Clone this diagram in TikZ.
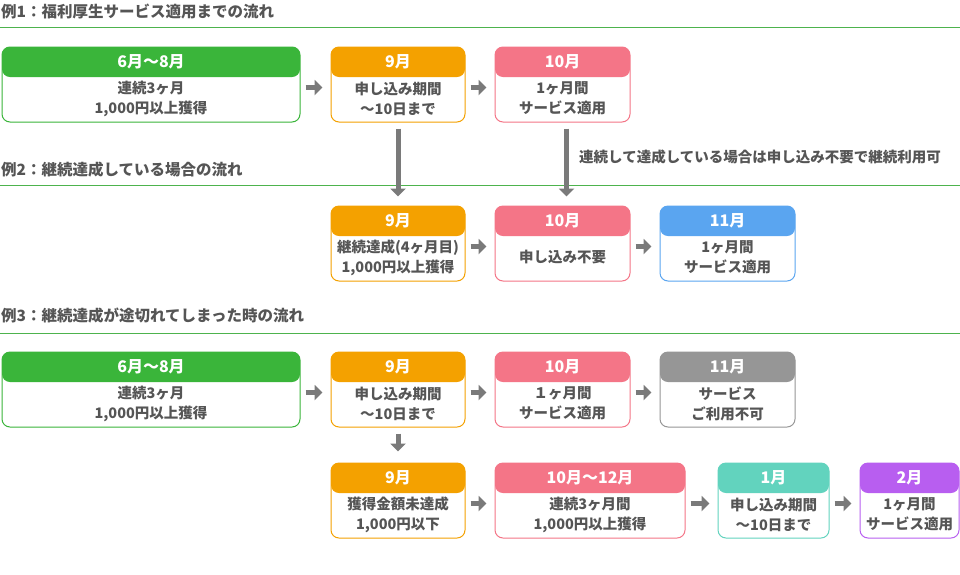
\documentclass[tikz,border=0pt]{standalone}
\usepackage{fontspec}
\setmainfont{Noto Sans CJK JP}
\usetikzlibrary{arrows.meta}
\definecolor{cgreen}{HTML}{3AB53A}
\definecolor{corange}{HTML}{F4A100}
\definecolor{cpink}{HTML}{F47587}
\definecolor{cblue}{HTML}{5AA5F0}
\definecolor{cgrey}{HTML}{969696}
\definecolor{cteal}{HTML}{62D3BE}
\definecolor{cpurple}{HTML}{B85EF0}
\definecolor{ctext}{HTML}{555555}
\definecolor{carrow}{HTML}{7A7A7A}
\definecolor{cline}{HTML}{4DB34D}
\newcommand\mbx[7]{%
  \node[mbox=#2, minimum width=#5] (#1) at (#3,#4) {};
  \node[hdr] (#1h) at ([yshift=-15pt]#1.north) {#6};
  \node[bodytxt] (#1b) at ([yshift=-14pt]#1.center) {#7};
}
\newcommand\harr[2]{\draw[arr] ([xshift=5pt,yshift=-3pt]#1.east) -- ([xshift=-8pt,yshift=-3pt]#2.west);}
\begin{document}
\begin{tikzpicture}[x=1pt,y=-1pt,
  mbox/.style={draw=#1, fill=white, line width=1pt, rounded corners=8pt,
    minimum height=75pt, inner sep=0pt,
    path picture={\fill[#1] (path picture bounding box.north west) rectangle ([yshift=-30pt]path picture bounding box.north east);}},
  hdr/.style={text=white, font=\fontsize{16}{18}\selectfont\bfseries, inner sep=0pt},
  bodytxt/.style={text=ctext, align=center, inner sep=0pt, font=\fontsize{14.5}{20}\selectfont\bfseries},
  ttl/.style={text=ctext, anchor=west, inner sep=0pt, font=\fontsize{15.5}{18}\selectfont\bfseries},
  sep/.style={draw=cline, line width=1pt},
  arr/.style={draw=carrow, line width=5pt, -{Triangle[length=8pt,width=15pt]}}]
\useasboundingbox (0,0) rectangle (960,574);
\fill[white] (0,0) rectangle (960,574);

% titles and separators
\node[ttl] (t1) at (1,12) {例1：福利厚生サービス適用までの流れ};
\draw[sep] (0,27) -- (960,27);
\node[ttl] (t2) at (1,170) {例2：継続達成している場合の流れ};
\draw[sep] (0,185) -- (960,185);
\node[ttl] (t3) at (1,316) {例3：継続達成が途切れてしまった時の流れ};
\draw[sep] (0,333) -- (960,333);

% row 1
\mbx{a1}{cgreen}{151}{84.5}{298pt}{6月〜8月}{連続3ヶ月\\1,000円以上獲得}
\mbx{a2}{corange}{398}{84.5}{134pt}{9月}{申し込み期間\\〜10日まで}
\mbx{a3}{cpink}{562.5}{84.5}{135pt}{10月}{1ヶ月間\\サービス適用}
\harr{a1}{a2}
\harr{a2}{a3}

% row 2
\mbx{b1}{corange}{398}{243.5}{134pt}{9月}{継続達成(4ヶ月目)\\1,000円以上獲得}
\mbx{b2}{cpink}{562.5}{243.5}{135pt}{10月}{申し込み不要}
\mbx{b3}{cblue}{727.5}{243.5}{135pt}{11月}{1ヶ月間\\サービス適用}
\harr{b1}{b2}
\harr{b2}{b3}

\draw[arr] ([yshift=-6pt]a2.south) -- ([yshift=9pt]b1.north);
\draw[arr] ([xshift=4pt,yshift=-6pt]a3.south) -- ([xshift=4pt,yshift=9pt]b2.north);
\node[text=ctext, anchor=west, inner sep=0pt, font=\fontsize{14.5}{18}\selectfont\bfseries] (note) at (579,157) {連続して達成している場合は申し込み不要で継続利用可};

% row 3
\mbx{c1}{cgreen}{151}{389.5}{298pt}{6月〜8月}{連続3ヶ月\\1,000円以上獲得}
\mbx{c2}{corange}{398}{389.5}{134pt}{9月}{申し込み期間\\〜10日まで}
\mbx{c3}{cpink}{562.5}{389.5}{135pt}{10月}{１ヶ月間\\サービス適用}
\mbx{c4}{cgrey}{727.5}{389.5}{135pt}{11月}{サービス\\ご利用不可}
\harr{c1}{c2}
\harr{c2}{c3}
\harr{c3}{c4}

% row 4
\mbx{d1}{corange}{398}{500.5}{134pt}{9月}{獲得金額未達成\\1,000円以下}
\mbx{d2}{cpink}{590}{500.5}{190pt}{10月〜12月}{連続3ヶ月間\\1,000円以上獲得}
\mbx{d3}{cteal}{773.5}{500.5}{111pt}{1月}{申し込み期間\\〜10日まで}
\mbx{d4}{cpurple}{909.5}{500.5}{99pt}{2月}{1ヶ月間\\サービス適用}
\harr{d1}{d2}
\harr{d2}{d3}
\harr{d3}{d4}
\draw[arr] ([yshift=-6pt]c2.south) -- ([yshift=11pt]d1.north);
\end{tikzpicture}
\end{document}
